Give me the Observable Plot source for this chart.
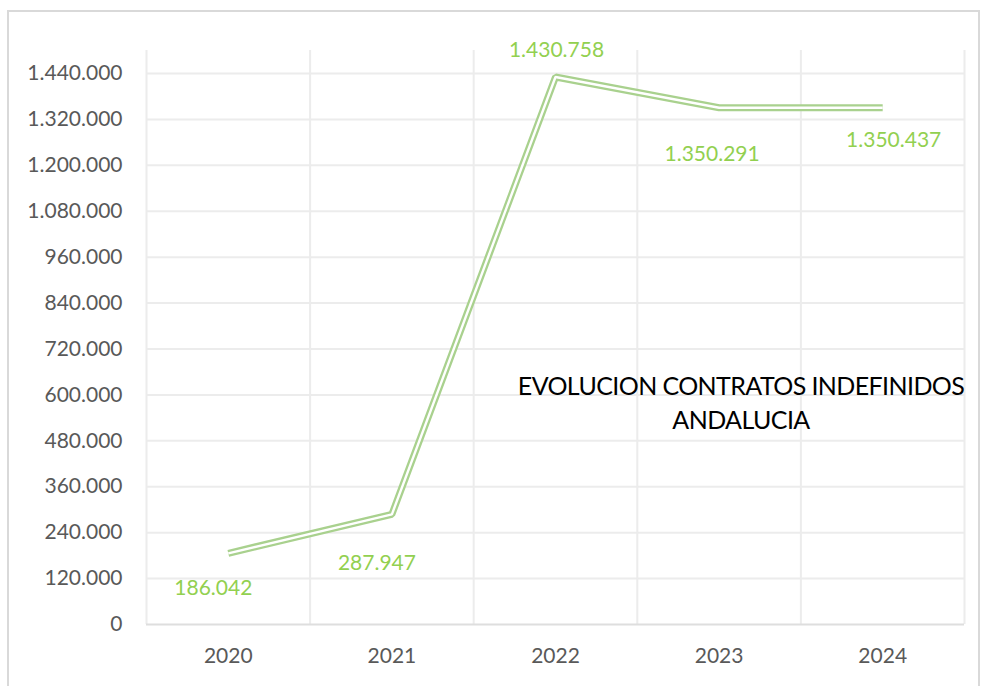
<!DOCTYPE html>
<html><head><meta charset="utf-8">
<script src="https://cdn.jsdelivr.net/npm/d3@7"></script>
<script src="https://cdn.jsdelivr.net/npm/@observablehq/plot@0.6"></script>
<style>
body{margin:0;background:#fff;}
#wrap{position:relative;width:981px;height:686px;overflow:hidden;font-family:Lato,sans-serif;}
#chart{position:absolute;left:0;top:0;}
#frame{position:absolute;left:7px;top:10px;width:973px;height:700px;border:2px solid #d9d9d9;box-sizing:border-box;pointer-events:none}
#title{position:absolute;left:491px;width:500px;top:368px;text-align:center;font-size:25px;line-height:34px;color:#000;letter-spacing:-0.6px}
</style></head><body>
<div id="wrap"><div id="chart"></div><div id="frame"></div><div id="title">EVOLUCION CONTRATOS INDEFINIDOS<br>ANDALUCIA</div></div>
<script>
const years = [2020, 2021, 2022, 2023, 2024];
const contratos = [186042, 287947, 1430758, 1350291, 1350437];
const yTicks = [0, 120000, 240000, 360000, 480000, 600000, 720000, 840000, 960000, 1080000, 1200000, 1320000, 1440000];
const labelOffsets = [[-15, 35], [-15, 49], [1, -27], [-7, 46], [11, 33]];

const data = years.map((year, i) => ({year, value: contratos[i], i}));
const bounds = [years[0] - 0.5, ...years.map(y => y + 0.5)];
const locale = d3.formatLocale({decimal: ",", thousands: ".", grouping: [3], currency: ["", ""]});
const fmt = locale.format(",d");

const labelMarks = data.map((d, i) => Plot.text([d], {
  x: "year", y: "value", text: d => fmt(d.value),
  dx: labelOffsets[i][0], dy: labelOffsets[i][1],
  fill: "#92d050", fontSize: 21, textAnchor: "middle", lineAnchor: "middle"
}));

const chart = Plot.plot({
  width: 981, height: 686,
  marginLeft: 146, marginRight: 17, marginTop: 50, marginBottom: 62,
  style: {fontFamily: "Lato, sans-serif", fontSize: "21px", color: "#595959", background: "transparent"},
  x: {domain: [years[0] - 0.5, years[years.length - 1] + 0.5], ticks: years, tickFormat: d => String(d), tickSize: 0, tickPadding: 24, label: null},
  y: {domain: [0, 1500000], ticks: yTicks, tickFormat: fmt, tickSize: 0, tickPadding: 24, label: null},
  marks: [
    Plot.ruleY(yTicks.filter(v => v > 0), {stroke: "#ececec", strokeWidth: 2, strokeOpacity: 1}),
    Plot.ruleX(bounds, {stroke: "#ececec", strokeWidth: 2, strokeOpacity: 1}),
    Plot.ruleY([0], {stroke: "#dedede", strokeWidth: 2}),
    Plot.lineY(data, {x: "year", y: "value", stroke: "#a9d18e", strokeWidth: 7, strokeLinejoin: "miter", strokeLinecap: "butt"}),
    Plot.lineY(data, {x: "year", y: "value", stroke: "#ffffff", strokeWidth: 2.4, strokeLinejoin: "miter", strokeLinecap: "butt"}),
    ...labelMarks
  ]
});
document.getElementById("chart").appendChild(chart);
</script>
</body></html>
